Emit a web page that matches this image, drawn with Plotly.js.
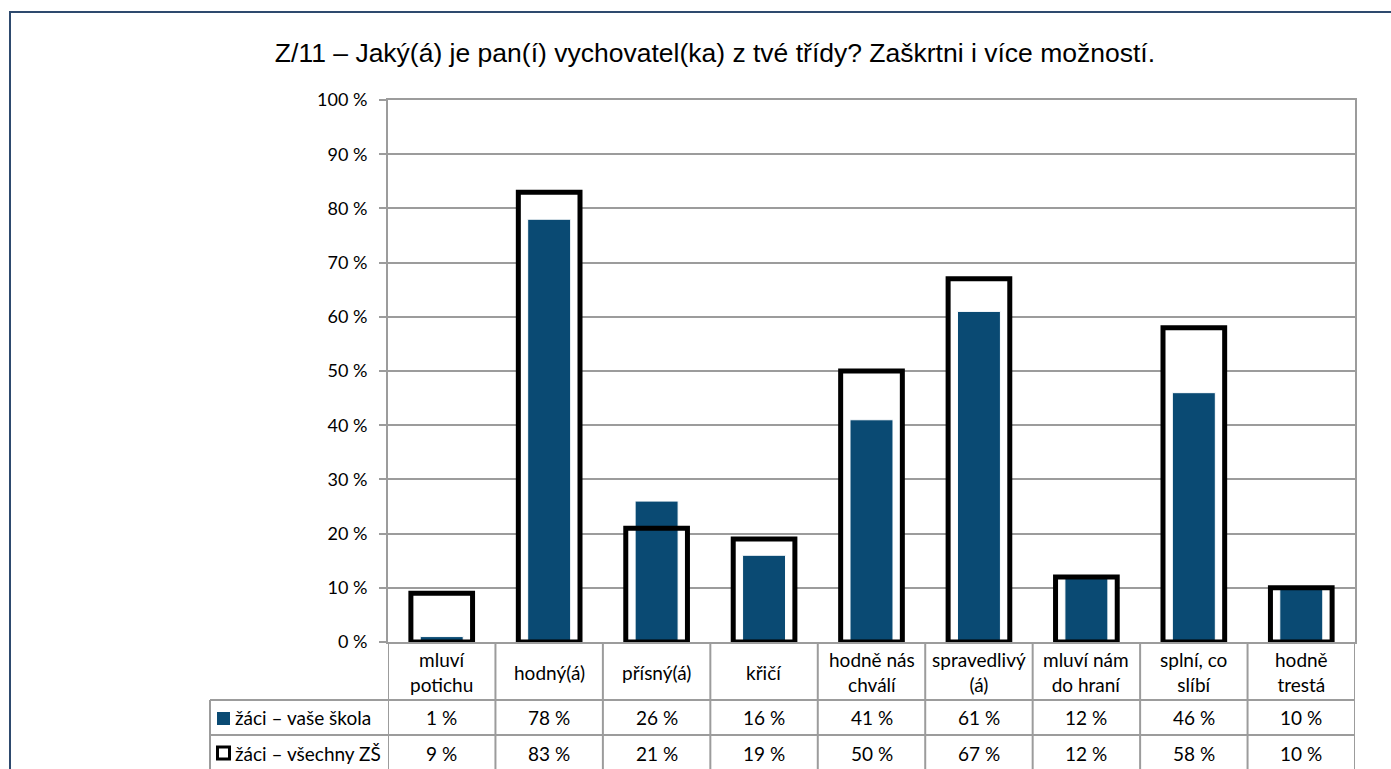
<!DOCTYPE html>
<html>
<head>
<meta charset="utf-8">
<script src="https://cdn.plot.ly/plotly-3.0.1.min.js"></script>
<style>
  html, body { margin: 0; padding: 0; background: #fff; overflow: hidden; }
  #wrap { position: relative; width: 1391px; height: 769px; }
  #chart { position: absolute; left: 0; top: 0; width: 1391px; height: 769px; }
  #frame { position: absolute; left: 9px; top: 11px; width: 1420px; height: 800px;
           border: 2px solid #2E4A6E; pointer-events: none; box-sizing: border-box; }
</style>
</head>
<body>
<div id="wrap">
  <div id="chart"></div>
  <div id="frame"></div>
</div>
<script>
// ---- data ----
const titleText = "Z/11 – Jaký(á) je pan(í) vychovatel(ka) z tvé třídy? Zaškrtni i více možností.";
const categories = ["mluví<br>potichu", "hodný(á)", "přísný(á)", "křičí", "hodně nás<br>chválí",
                    "spravedlivý<br>(á)", "mluví nám<br>do hraní", "splní, co<br>slíbí", "hodně<br>trestá"];
const seriesNames = ["žáci – vaše škola", "žáci – všechny ZŠ"];
const skolaValues = [1, 78, 26, 16, 41, 61, 12, 46, 10];
const vsechnyValues = [9, 83, 21, 19, 50, 67, 12, 58, 10];
const yTickVals = [0, 10, 20, 30, 40, 50, 60, 70, 80, 90, 100];

// ---- layout helpers ----
const W = 1391, H = 769;
const M = { l: 388, r: 36, t: 100, b: 127 };
const PW = W - M.l - M.r, PH = H - M.t - M.b;
const px = x => (x - M.l) / PW;         // pixel x -> paper x
const py = y => (H - M.b - y) / PH;     // pixel y -> paper y

const FONT = "Lato, 'Open Sans', sans-serif";
const TFS = 19;   // table font size
const BLUE = "#0A4A73";
const GRID = "#9C9C9C";
const idx = categories.map((_, i) => i);

const traces = [
  { type: "bar", x: idx, y: vsechnyValues, width: 0.574, name: seriesNames[1],
    marker: { color: "#ffffff", line: { width: 0 } }, hoverinfo: "skip", showlegend: false },
  { type: "bar", x: idx, y: skolaValues, width: 0.40, name: seriesNames[0],
    marker: { color: BLUE, line: { color: "#ffffff", width: 1 } }, showlegend: false },
  { type: "bar", x: idx, y: vsechnyValues, width: 0.574, name: seriesNames[1],
    marker: { color: "rgba(0,0,0,0)", line: { color: "#000000", width: 5 } }, showlegend: false }
];

const shapes = [];
const annotations = [];
const lineStyle = { color: GRID, width: 2 };
const yTop = py(700), yMid = py(735), yBot = py(790);
const xLeft = px(210);

// vertical table lines at column boundaries
for (let k = -1; k < categories.length; k++) {
  shapes.push({ type: "line", xref: "x", yref: "paper", x0: k + 0.5, x1: k + 0.5,
                y0: 0, y1: yBot, line: lineStyle, layer: "below" });
}
// left column of table
shapes.push({ type: "line", xref: "paper", yref: "paper", x0: xLeft, x1: xLeft, y0: yTop, y1: yBot, line: lineStyle });
// horizontal table lines
[yTop, yMid].forEach(yy => shapes.push({ type: "line", xref: "paper", yref: "paper",
  x0: xLeft, x1: 1, y0: yy, y1: yy, line: lineStyle }));

// legend keys
shapes.push({ type: "rect", xref: "paper", yref: "paper", x0: px(217), x1: px(230), y0: py(725), y1: py(712),
              fillcolor: BLUE, line: { width: 0 } });
shapes.push({ type: "rect", xref: "paper", yref: "paper", x0: px(217.5), x1: px(229.5), y0: py(759), y1: py(747),
              fillcolor: "#ffffff", line: { color: "#000", width: 3 } });

// category labels
categories.forEach((c, i) => annotations.push({ xref: "x", yref: "paper", x: i, y: py(672),
  text: c, showarrow: false, xanchor: "center", yanchor: "middle", font: { family: FONT, size: TFS, color: "#000" } }));
// table values
const rows = [[skolaValues, py(718)], [vsechnyValues, py(753)]];
rows.forEach(([vals, yy], r) => {
  vals.forEach((v, i) => annotations.push({ xref: "x", yref: "paper", x: i, y: yy,
    text: v + "\u00a0%", showarrow: false, xanchor: "center", yanchor: "middle",
    font: { family: FONT, size: TFS, color: "#000" } }));
  annotations.push({ xref: "paper", yref: "paper", x: px(233), y: yy, text: seriesNames[r],
    showarrow: false, xanchor: "left", yanchor: "middle", font: { family: FONT, size: TFS, color: "#000" } });
});

const layout = {
  width: W, height: H,
  margin: M,
  paper_bgcolor: "#ffffff", plot_bgcolor: "#ffffff",
  barmode: "overlay",
  showlegend: false,
  title: { text: titleText, x: 0.514, xanchor: "center", y: 0.932, yanchor: "middle",
           font: { family: "'Liberation Sans', Arial, sans-serif", size: 26.5, color: "#000" } },
  xaxis: { range: [-0.5, categories.length - 0.5], showticklabels: false, ticks: "",
           showgrid: false, zeroline: false, showline: true, linecolor: GRID, linewidth: 2, mirror: true, fixedrange: true },
  yaxis: { range: [0, 100], tickvals: yTickVals, ticktext: yTickVals.map(v => v + "\u00a0%"),
           ticks: "outside", ticklen: 7, tickcolor: GRID, tickwidth: 2, ticklabelstandoff: 8,
           showgrid: true, gridcolor: GRID, gridwidth: 2, zeroline: false,
           showline: true, linecolor: GRID, linewidth: 2, mirror: true,
           tickfont: { family: FONT, size: 18, color: "#000" }, fixedrange: true },
  shapes: shapes,
  annotations: annotations
};

Plotly.newPlot("chart", traces, layout, { displayModeBar: false, staticPlot: true });
</script>
</body>
</html>
